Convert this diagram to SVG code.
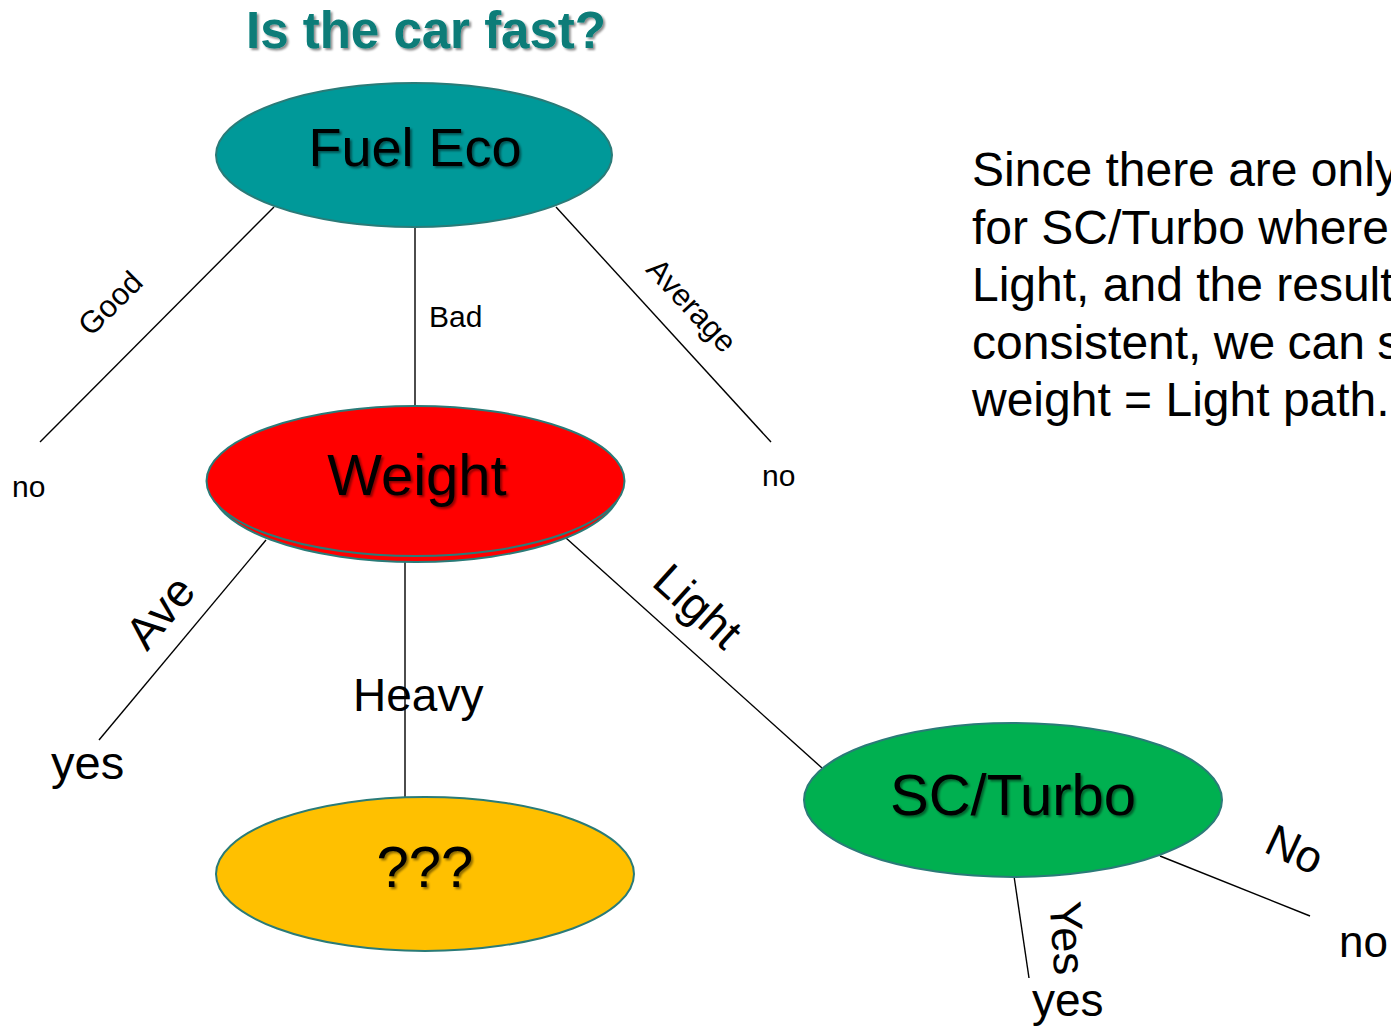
<svg xmlns="http://www.w3.org/2000/svg" width="1391" height="1027" viewBox="0 0 1391 1027">
<style>
.t{font-family:"Liberation Sans",Arial,sans-serif;fill:#000}
.edge{stroke:#000;stroke-width:1.4;fill:none}
.node{stroke:#2A7B78;stroke-width:2}
.nt{font-family:"Liberation Sans",Arial,sans-serif;font-size:58px;fill:#000;text-anchor:middle}
.el{font-family:"Liberation Sans",Arial,sans-serif;fill:#000;text-anchor:middle}
</style>
<defs>
<filter id="sh" x="-10%" y="-20%" width="130%" height="150%">
<feDropShadow dx="2" dy="2" stdDeviation="1.2" flood-color="#000" flood-opacity="0.45"/>
</filter>
</defs>
<rect width="1391" height="1027" fill="#fff"/>
<text x="426" y="48" class="t" style="font-size:51px;font-weight:bold;fill:#077C78" text-anchor="middle" filter="url(#sh)">Is the car fast?</text>
<g id="connectors">
<line class="edge" x1="274" y1="207" x2="40" y2="442"/>
<line class="edge" x1="415" y1="225" x2="415" y2="406"/>
<line class="edge" x1="556" y1="207" x2="771" y2="442"/>
<line class="edge" x1="266" y1="540" x2="99" y2="740"/>
<line class="edge" x1="405" y1="560" x2="405" y2="798"/>
<line class="edge" x1="566" y1="538" x2="822" y2="768"/>
<line class="edge" x1="1014" y1="876" x2="1029" y2="978"/>
<line class="edge" x1="1160" y1="856" x2="1310" y2="916"/>
<text class="el" style="font-size:31px" transform="translate(110,303) rotate(-45)" dy="11">Good</text>
<text class="t" style="font-size:30px" x="429" y="327">Bad</text>
<text class="el" style="font-size:31px" transform="translate(692,305) rotate(47)" dy="11">Average</text>
<text class="el" style="font-size:46px" transform="translate(160,612) rotate(-50)" dy="16">Ave</text>
<text class="t" style="font-size:46px" x="353" y="711">Heavy</text>
<text class="el" style="font-size:46px" transform="translate(698,606) rotate(42)" dy="16">Light</text>
<text class="el" style="font-size:45px" transform="translate(1068,938) rotate(86)" dy="16">Yes</text>
<text class="el" style="font-size:45px" transform="translate(1295,849) rotate(25)" dy="16">No</text>
</g>
<g id="node-fuel">
<ellipse class="node" cx="414" cy="155" rx="198" ry="72" fill="#009999"/>
<text class="nt" x="415" y="166" style="font-size:54px" filter="url(#sh)">Fuel Eco</text>
</g>
<g id="node-weight">
<ellipse class="node" cx="416" cy="486" rx="205" ry="76" fill="#FF0000"/>
<ellipse class="node" cx="415.5" cy="481" rx="209" ry="75" fill="#FF0000"/>
<text class="nt" x="417" y="495" filter="url(#sh)">Weight</text>
</g>
<g id="node-unknown">
<ellipse class="node" cx="425" cy="874" rx="209" ry="77" fill="#FFC000"/>
<text class="nt" x="425" y="887" filter="url(#sh)">???</text>
</g>
<g id="node-scturbo">
<ellipse class="node" cx="1013" cy="800" rx="209" ry="77" fill="#00B050"/>
<text class="nt" x="1013" y="815" filter="url(#sh)">SC/Turbo</text>
</g>
<g id="leaves">
<text class="t" style="font-size:30px" x="12" y="497">no</text>
<text class="t" style="font-size:30px" x="762" y="486">no</text>
<text class="t" style="font-size:47px" x="51" y="779">yes</text>
<text class="t" style="font-size:46px" x="1032" y="1016">yes</text>
<text class="t" style="font-size:44px" x="1339" y="957">no</text>
</g>
<g id="note" class="t" style="font-size:48px">
<text x="972" y="186" class="t">Since there are only</text>
<text x="972" y="244" class="t">for SC/Turbo where</text>
<text x="972" y="301" class="t">Light, and the result</text>
<text x="972" y="359" class="t" word-spacing="-1">consistent, we can s</text>
<text x="972" y="416" class="t">weight = Light path.</text>
</g>
</svg>
